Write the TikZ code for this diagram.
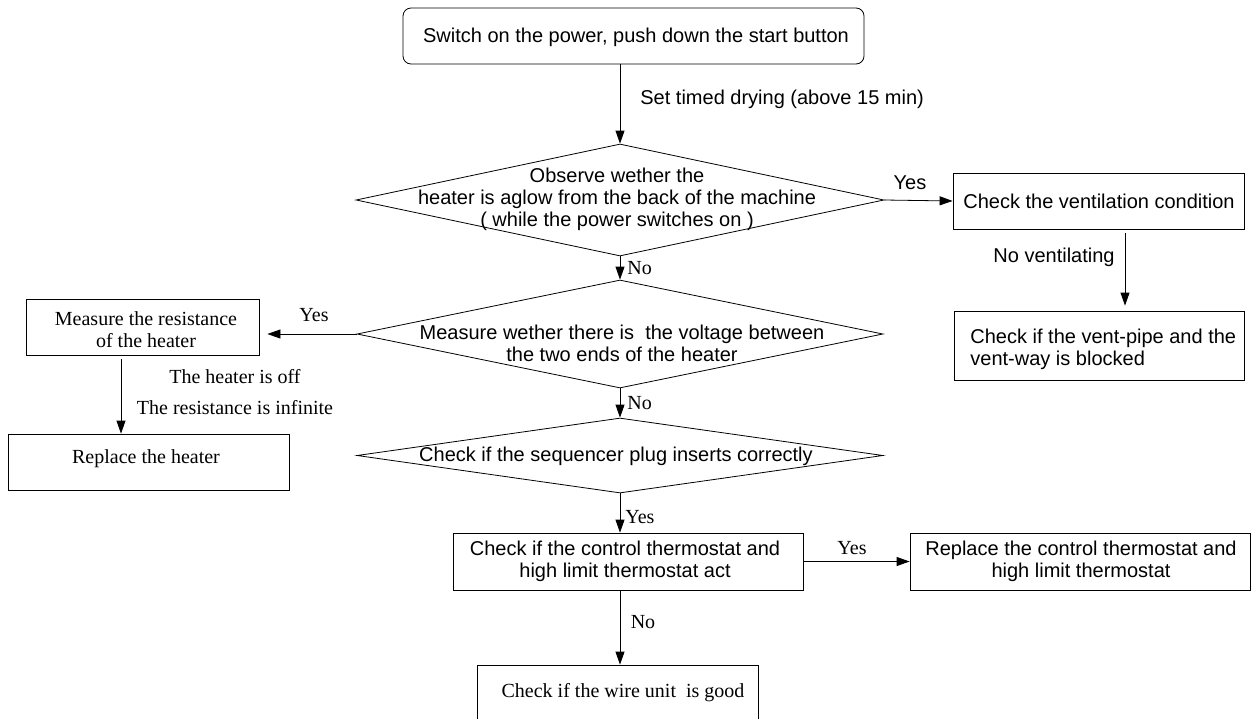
\documentclass[tikz,border=0pt]{standalone}
\usepackage{fontspec}
\setmainfont{Liberation Serif}
\newfontfamily\arialf{Liberation Sans}
\usetikzlibrary{shapes.geometric,arrows.meta}
\begin{document}
\begin{tikzpicture}[x=1pt,y=-1pt, line width=0.8pt,
  box/.style 2 args={draw, rectangle, inner sep=0pt, minimum width=#1, minimum height=#2},
  dia/.style 2 args={draw, diamond, inner sep=0pt, minimum width=#1, minimum height=#2},
  sans/.style={font=\arialf\fontsize{20}{22}\selectfont, align=center, inner sep=0pt},
  serif/.style={font=\fontsize{20}{22}\selectfont, align=center, inner sep=0pt},
  arr/.style={-{Triangle[length=13pt,width=9pt]}}]
\useasboundingbox (0,0) rectangle (1252,718);

% start
\node[box={461pt}{56pt}, rounded corners=8pt] (start) at (633.5,36) {};
\node[sans] (tstart) at (636,37) {Switch on the power, push down the start button};

% diamond 1
\node[dia={528pt}{112pt}] (d1) at (620,200) {};
\node[sans] (td1) at (617,199) {Observe wether the\\heater is aglow from the back of the machine\\( while the power switches on )};
\draw[arr] (start.south -| d1.north) -- (d1.north);
\node[sans, anchor=west] (lset) at (640,99) {Set timed drying (above 15 min)};

% ventilation
\node[box={291pt}{56pt}] (vent) at (1098.5,201) {};
\node[sans] (tvent) at (1099,201) {Check the ventilation condition};
\draw[arr] (d1.east) -- (vent.west);
\node[sans] (lyes1) at (910,183) {Yes};

\node[box={290pt}{69pt}] (vent2) at (1099,345.5) {};
\node[sans, anchor=west, align=left] (tvent2) at (970,349.5) {Check if the vent-pipe and the\\vent-way is blocked};
\coordinate (vx) at (1125,0);
\draw[arr, shorten <=4pt, shorten >=5pt] (vent.south -| vx) -- (vent2.north -| vx);
\node[sans, anchor=east] (lnovent) at (1115,257) {No ventilating};

% diamond 2
\node[dia={526pt}{108pt}] (d2) at (620,334) {};
\node[sans] (td2) at (622,343) {Measure wether there is \ the voltage between\\the two ends of the heater};
\draw[arr] (d1.south) -- (d2.north);
\node[serif, anchor=west] (lno1) at (627,268) {No};

% measure resistance
\node[box={233pt}{56pt}] (meas) at (142.5,327) {};
\node[serif] (tmeas) at (146,330) {Measure the resistance\\of the heater};
\draw[arr, shorten >=8pt] (d2.west) -- (d2.west -| meas.east);
\node[serif] (lyes2) at (314,315) {Yes};

% replace heater
\node[box={281pt}{56pt}] (repl) at (148.5,462) {};
\node[serif] (trepl) at (146,459) {Replace the heater};
\coordinate (mx) at (121,0);
\draw[arr, shorten <=4pt] (meas.south -| mx) -- (repl.north -| mx);
\node[serif] (loff) at (235,377) {The heater is off};
\node[serif] (linf) at (235,408) {The resistance is infinite};

% diamond 3
\node[dia={526pt}{75pt}] (d3) at (620,455.5) {};
\node[sans] (td3) at (616,456) {Check if the sequencer plug inserts correctly};
\draw[arr] (d2.south) -- (d3.north);
\node[serif, anchor=west] (lno2) at (627,403) {No};

% thermostat check
\node[box={350pt}{57pt}] (thermo) at (628,561.5) {};
\node[sans] (tthermo) at (625,561) {Check if the control thermostat and\\high limit thermostat act};
\draw[arr] (d3.south) -- (d3.south |- thermo.north);
\node[serif, anchor=west] (lyes3) at (625,517) {Yes};

% replace thermostat
\node[box={340pt}{57pt}] (rthermo) at (1080,561.5) {};
\node[sans] (trthermo) at (1081,561) {Replace the control thermostat and\\high limit thermostat};
\draw[arr] (thermo.east) -- (rthermo.west);
\node[serif] (lyes4) at (852,548) {Yes};

% wire unit
\node[box={281pt}{80pt}] (wire) at (617.5,705) {};
\node[serif] (twire) at (623,693) {Check if the wire unit \ is good};
\draw[arr] (thermo.south -| d3.south) -- (wire.north -| d3.south);
\node[serif] (lno3) at (643,622) {No};
\end{tikzpicture}
\end{document}
